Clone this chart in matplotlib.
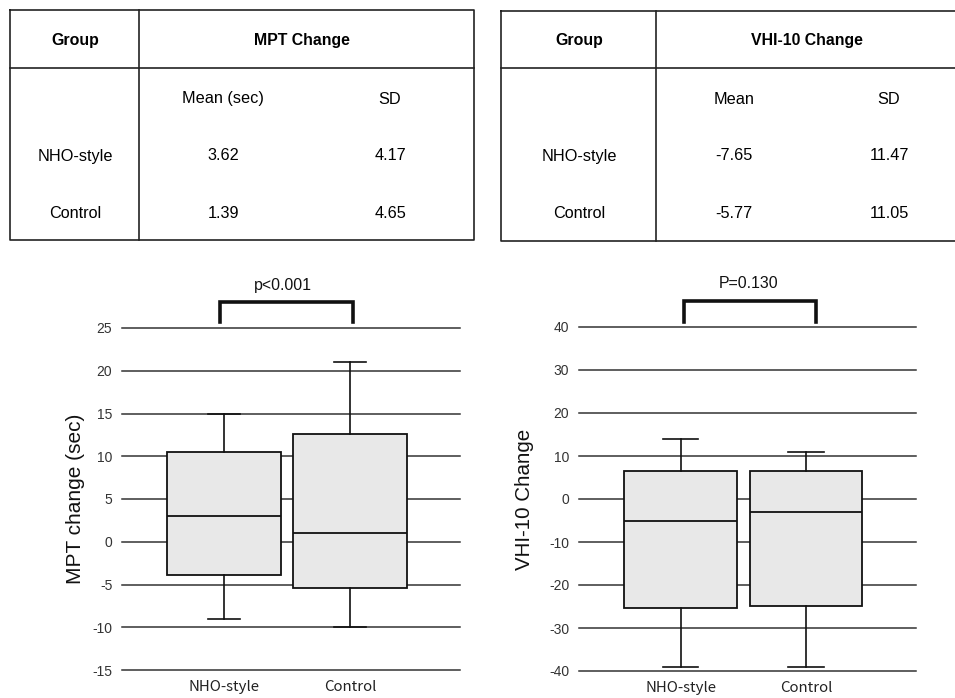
import matplotlib
matplotlib.use("Agg")
import matplotlib.pyplot as plt

# group names
groups = ["NHO-style", "Control"]

# summary tables
mpt_header = ["Group", "MPT Change"]
mpt_cols = ["Mean (sec)", "SD"]
mpt_mean = ["3.62", "1.39"]
mpt_sd = ["4.17", "4.65"]

vhi_header = ["Group", "VHI-10 Change"]
vhi_cols = ["Mean", "SD"]
vhi_mean = ["-7.65", "-5.77"]
vhi_sd = ["11.47", "11.05"]

# box plot values
mpt_whislo = [-9, -10]
mpt_q1 = [-3.9, -5.4]
mpt_med = [3.0, 1.0]
mpt_q3 = [10.5, 12.6]
mpt_whishi = [15, 21]
mpt_ticks = [-15, -10, -5, 0, 5, 10, 15, 20, 25]
mpt_p = "p<0.001"

vhi_whislo = [-39, -39]
vhi_q1 = [-25.4, -24.9]
vhi_med = [-5, -3]
vhi_q3 = [6.5, 6.5]
vhi_whishi = [14, 11]
vhi_ticks = [-40, -30, -20, -10, 0, 10, 20, 30, 40]
vhi_p = "P=0.130"

W, H = 955, 698
plt.rcParams['font.family'] = ['Liberation Sans', 'DejaVu Sans']
fig = plt.figure(figsize=(W / 100, H / 100), dpi=100)

# overlay in pixel coords for the tables
ov = fig.add_axes([0, 0, 1, 1], zorder=-1)
ov.set_xlim(0, W)
ov.set_ylim(H, 0)
ov.axis('off')

TFS = 11.7


def table(x0, x1, y0, y1, xdiv, yhead, header, cols, col_x, means, sds, grp_x):
    lc = '#222222'
    lw = 1.2
    ov.plot([x0, x1, x1, x0, x0], [y0, y0, y1, y1, y0], color=lc, lw=lw, clip_on=False)
    ov.plot([x0, x1], [yhead, yhead], color=lc, lw=lw)
    ov.plot([xdiv, xdiv], [y0, y1], color=lc, lw=lw)
    ov.text(grp_x, 41, header[0], ha='center', va='center', fontsize=TFS - 0.3, fontweight='bold')
    ov.text((col_x[0] + col_x[1]) / 2 - 5, 41, header[1], ha='center', va='center',
            fontsize=TFS - 0.3, fontweight='bold')
    ov.text(col_x[0], 99, cols[0], ha='center', va='center', fontsize=TFS)
    ov.text(col_x[1], 99, cols[1], ha='center', va='center', fontsize=TFS)
    for i, g in enumerate(groups):
        yy = 156 + i * 57
        ov.text(grp_x, yy, g, ha='center', va='center', fontsize=TFS)
        ov.text(col_x[0], yy, means[i], ha='center', va='center', fontsize=TFS)
        ov.text(col_x[1], yy, sds[i], ha='center', va='center', fontsize=TFS)


table(10, 474, 10, 240, 139, 68, mpt_header, mpt_cols, [223, 390], mpt_mean, mpt_sd, 75)
table(501, 960, 11, 241, 656, 68, vhi_header, vhi_cols, [734, 889], vhi_mean, vhi_sd, 579)


def boxchart(rect, whislo, q1, med, q3, whishi, ticks, xlim, ylabel, ylabel_fs, label_x,
             bracket_x, bracket_y, ptext, ptext_x, ptext_y, capw):
    ax = fig.add_axes(rect)
    stats = []
    for i, g in enumerate(groups):
        stats.append(dict(label=g, whislo=whislo[i], q1=q1[i], med=med[i],
                          q3=q3[i], whishi=whishi[i], fliers=[]))
    ax.bxp(stats, positions=[1, 2], widths=0.9, patch_artist=True, showfliers=False,
           capwidths=capw,
           boxprops=dict(facecolor='#e8e8e8', edgecolor='#111111', linewidth=1.3),
           medianprops=dict(color='#111111', linewidth=1.3),
           whiskerprops=dict(color='#111111', linewidth=1.2),
           capprops=dict(color='#111111', linewidth=1.2),
           zorder=3)
    for t in ticks:
        ax.axhline(t, color='#333333', lw=1.1, zorder=1, clip_on=False)
    ax.set_xlim(xlim)
    ax.set_ylim(ticks[0], ticks[-1])
    ax.set_yticks(ticks)
    ax.set_yticklabels([str(t) for t in ticks], fontsize=10, color='#333333')
    ax.tick_params(axis='y', length=0, pad=7)
    ax.tick_params(axis='x', length=0, pad=7)
    ax.set_xticks([1, 2])
    ax.set_xticklabels(groups, fontsize=10.8, color='#222222',
                       family=['Noto Sans CJK KR', 'DejaVu Sans'])
    for s in ax.spines.values():
        s.set_visible(False)
    ax.set_ylabel(ylabel, fontsize=ylabel_fs, color='#111111')
    ax.yaxis.set_label_coords(label_x, 0.5)
    ax.plot([bracket_x[0], bracket_x[0], bracket_x[1], bracket_x[1]],
            [bracket_y[0], bracket_y[1], bracket_y[1], bracket_y[0]],
            color='#111111', lw=2.6, clip_on=False, solid_joinstyle='miter')
    ax.text(ptext_x, ptext_y, ptext, ha='center', va='center', fontsize=11.4,
            color='#111111', clip_on=False)
    return ax


boxchart([122 / W, (H - 670) / H, 338 / W, 342 / H],
         mpt_whislo, mpt_q1, mpt_med, mpt_q3, mpt_whishi, mpt_ticks,
         (0.19, 2.873), "MPT change (sec)", 15, -0.11,
         (0.97, 2.02), (25.7, 28.0), mpt_p, 1.47, 30.0, 0.26)

boxchart([579 / W, (H - 671) / H, 337 / W, 344 / H],
         vhi_whislo, vhi_q1, vhi_med, vhi_q3, vhi_whishi, vhi_ticks,
         (0.191, 2.877), "VHI-10 Change", 14.8, -0.135,
         (1.025, 2.077), (41.2, 46.1), vhi_p, 1.54, 50.2, 0.28)

fig.savefig("out.png", dpi=100)
